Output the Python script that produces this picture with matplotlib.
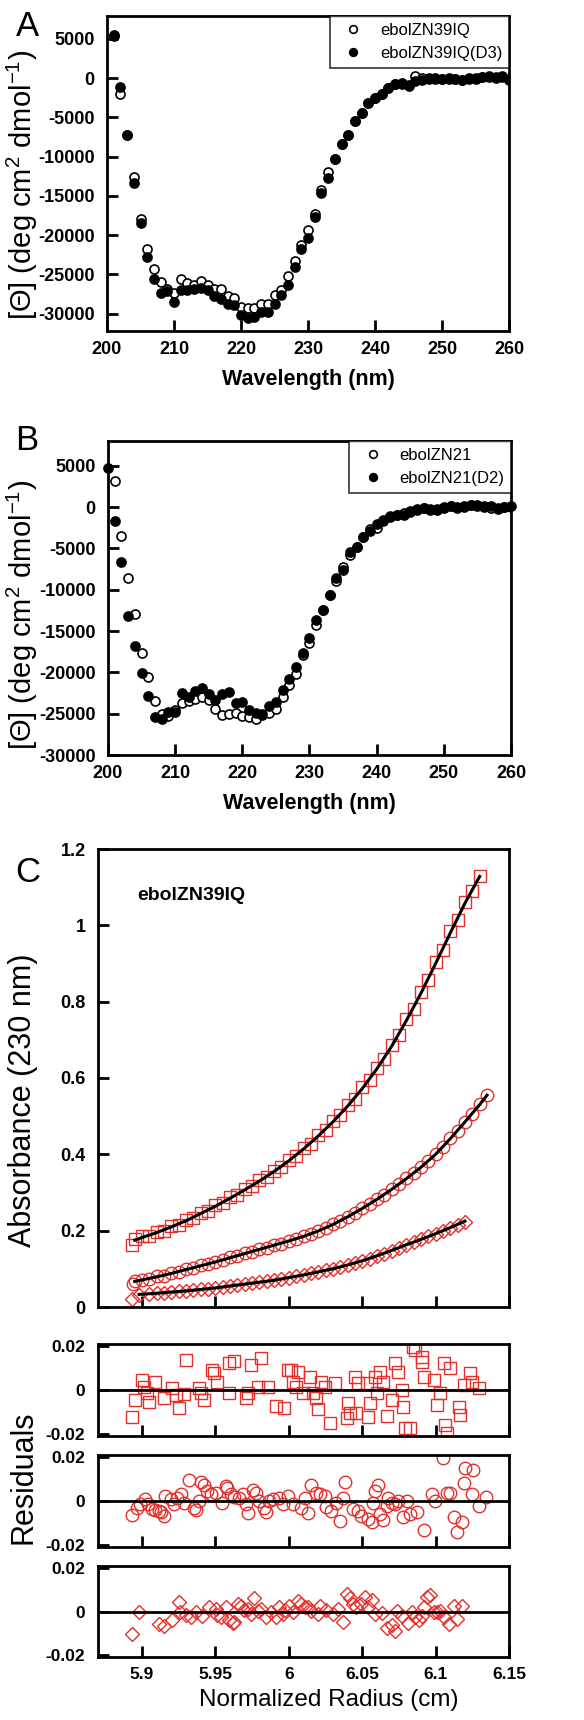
import numpy as np
import matplotlib
matplotlib.use("Agg")
import matplotlib.pyplot as plt

plt.rcParams['font.family'] = ['Liberation Sans', 'DejaVu Sans']
plt.rcParams['mathtext.fontset'] = 'custom'
plt.rcParams['mathtext.rm'] = 'Liberation Sans'
plt.rcParams['mathtext.it'] = 'Liberation Sans:italic'
plt.rcParams['axes.unicode_minus'] = False

# ---------------- Panel A : CD spectra ----------------
wl_a = list(range(201, 261))
a_open = [5500, -2000, -7300, -12600, -17900, -21700, -24300, -25900, -26900, -27300,
          -25600, -26100, -26400, -25800, -26300, -26800, -26900, -27800, -28000, -29100,
          -29300, -29300, -28700, -28700, -27600, -27000, -25200, -23300, -21300, -19300,
          -17300, -14300, -12000, -10300, -8400, -7200, -5500, -4400, -3200, -2500,
          -2000, -1300, -700, -600, -900, 200, 0, 0, 0, -100,
          0, -100, -300, -100, 0, 100, 100, 0, 100, -200]
a_fill = [5400, -1200, -7300, -13300, -18500, -22800, -25600, -27300, -27100, -28500,
          -27000, -27000, -26800, -26700, -27000, -27800, -28100, -28800, -28900, -30100,
          -30600, -30400, -29800, -29800, -28800, -27600, -26400, -24100, -21800, -20300,
          -17700, -14600, -12700, -10300, -8400, -7200, -5500, -4400, -3200, -2500,
          -2000, -1300, -800, -700, -1000, -400, -200, -100, -100, -100,
          -100, -100, -200, 0, -100, 100, 200, 100, 200, -100]

# ---------------- Panel B : CD spectra ----------------
wl_b_open = list(range(201, 261))
b_open = [3200, -3500, -8600, -12900, -17700, -20500, -23500, -25000, -25300, -24500,
          -23700, -23500, -23200, -23000, -23400, -24400, -25100, -25000, -24900, -25300,
          -25400, -25600, -25100, -24900, -24400, -23000, -21500, -20200, -17900, -16500,
          -14300, -12400, -10600, -9000, -7200, -5800, -4800, -3600, -2700, -2500,
          -1500, -1100, -900, -700, -500, -200, -100, -300, -200, 0,
          100, -100, 0, 200, 200, 100, -100, -100, 0, 0]
wl_b_fill = list(range(200, 261))
b_fill = [4700, -1700, -6700, -13200, -16800, -20100, -22800, -25400, -25700, -24800,
          -24800, -22500, -23000, -22200, -21900, -22600, -23300, -22600, -22400, -23700,
          -23600, -24600, -24900, -25000, -24100, -23600, -22100, -20800, -19300, -17600,
          -15900, -13700, -12400, -10600, -8600, -7600, -5400, -4800, -3600, -2900,
          -2100, -1700, -1200, -1000, -900, -600, -300, -100, -200, -300,
          -100, 100, 0, 100, 300, 100, 0, 100, -200, 0, 100]

# ---------------- Panel C : sedimentation equilibrium ----------------
r_sq = [5.893, 5.895, 5.900, 5.905, 5.910, 5.915, 5.920, 5.925, 5.930, 5.935, 5.940,
        5.945, 5.950, 5.955, 5.960, 5.965, 5.970, 5.975, 5.980, 5.985, 5.990,
        5.995, 6.000, 6.005, 6.010, 6.015, 6.020, 6.025, 6.030, 6.035, 6.040,
        6.045, 6.050, 6.055, 6.060, 6.065, 6.070, 6.075, 6.080, 6.085, 6.090,
        6.095, 6.100, 6.105, 6.110, 6.115, 6.120, 6.125, 6.130]
abs_sq = [0.162, 0.178, 0.185, 0.187, 0.197, 0.200, 0.212, 0.216, 0.228, 0.233, 0.247,
          0.252, 0.266, 0.272, 0.287, 0.294, 0.309, 0.316, 0.333, 0.340, 0.357,
          0.366, 0.386, 0.396, 0.417, 0.428, 0.451, 0.463, 0.488, 0.502, 0.529,
          0.546, 0.576, 0.594, 0.627, 0.650, 0.687, 0.712, 0.754, 0.781, 0.826,
          0.856, 0.904, 0.936, 0.984, 1.015, 1.062, 1.090, 1.128]
r_ci = [5.894, 5.895, 5.900, 5.905, 5.910, 5.915, 5.920, 5.925, 5.930, 5.935, 5.940,
        5.945, 5.950, 5.955, 5.960, 5.965, 5.970, 5.975, 5.980, 5.985, 5.990,
        5.995, 6.000, 6.005, 6.010, 6.015, 6.020, 6.025, 6.030, 6.035, 6.040,
        6.045, 6.050, 6.055, 6.060, 6.065, 6.070, 6.075, 6.080, 6.085, 6.090,
        6.095, 6.100, 6.105, 6.110, 6.115, 6.120, 6.125, 6.130, 6.135]
abs_ci = [0.060, 0.068, 0.072, 0.074, 0.080, 0.082, 0.089, 0.092, 0.099, 0.102, 0.109,
          0.112, 0.119, 0.122, 0.130, 0.133, 0.141, 0.144, 0.152, 0.155, 0.163,
          0.166, 0.174, 0.178, 0.186, 0.191, 0.200, 0.206, 0.217, 0.225, 0.237,
          0.246, 0.259, 0.269, 0.283, 0.294, 0.309, 0.321, 0.337, 0.350, 0.367,
          0.382, 0.401, 0.419, 0.442, 0.462, 0.486, 0.506, 0.531, 0.555]
r_di = [5.893, 5.898, 5.905, 5.910, 5.915, 5.920, 5.925, 5.930, 5.935, 5.940,
        5.945, 5.950, 5.955, 5.960, 5.965, 5.970, 5.975, 5.980, 5.985, 5.990,
        5.995, 6.000, 6.005, 6.010, 6.015, 6.020, 6.025, 6.030, 6.035, 6.040,
        6.045, 6.050, 6.055, 6.060, 6.065, 6.070, 6.075, 6.080, 6.085, 6.090,
        6.095, 6.100, 6.105, 6.110, 6.115, 6.120]
abs_di = [0.022, 0.032, 0.034, 0.036, 0.037, 0.039, 0.041, 0.042, 0.044, 0.046,
          0.048, 0.050, 0.052, 0.055, 0.057, 0.060, 0.062, 0.065, 0.067, 0.070,
          0.073, 0.077, 0.081, 0.084, 0.088, 0.092, 0.096, 0.100, 0.105, 0.110,
          0.116, 0.121, 0.127, 0.134, 0.140, 0.147, 0.155, 0.163, 0.170, 0.177,
          0.185, 0.192, 0.200, 0.208, 0.216, 0.224]

# fitted curves
fit_r_sq = [5.895, 5.90, 5.91, 5.92, 5.93, 5.94, 5.95, 5.96, 5.97, 5.98, 5.99, 6.00,
            6.01, 6.02, 6.03, 6.04, 6.05, 6.06, 6.07, 6.08, 6.09, 6.10, 6.11, 6.12, 6.13]
fit_sq = [0.175, 0.182, 0.195, 0.210, 0.226, 0.245, 0.264, 0.285, 0.307, 0.330, 0.355, 0.383,
          0.414, 0.448, 0.485, 0.526, 0.572, 0.624, 0.683, 0.750, 0.822, 0.900, 0.980, 1.058, 1.128]
fit_r_ci = [5.895, 5.90, 5.91, 5.92, 5.93, 5.94, 5.95, 5.96, 5.97, 5.98, 5.99, 6.00, 6.01,
            6.02, 6.03, 6.04, 6.05, 6.06, 6.07, 6.08, 6.09, 6.10, 6.11, 6.12, 6.13, 6.135]
fit_ci = [0.067, 0.071, 0.079, 0.088, 0.098, 0.108, 0.118, 0.129, 0.140, 0.151, 0.162, 0.173, 0.185,
          0.199, 0.216, 0.236, 0.258, 0.282, 0.308, 0.336, 0.366, 0.400, 0.441, 0.485, 0.530, 0.555]
fit_r_di = [5.898, 5.91, 5.92, 5.93, 5.94, 5.95, 5.96, 5.97, 5.98, 5.99, 6.00, 6.01,
            6.02, 6.03, 6.04, 6.05, 6.06, 6.07, 6.08, 6.09, 6.10, 6.11, 6.12]
fit_di = [0.033, 0.036, 0.039, 0.042, 0.046, 0.050, 0.055, 0.060, 0.065, 0.070, 0.077, 0.084,
          0.092, 0.100, 0.110, 0.121, 0.134, 0.148, 0.163, 0.177, 0.192, 0.208, 0.225]

# residuals (squares)
res_r_sq = [5.8932, 5.8954, 5.9000, 5.9011, 5.9034, 5.9046, 5.9091, 5.9148, 5.9205, 5.9228,
            5.9251, 5.9297, 5.9285, 5.9388, 5.9400, 5.9422, 5.9479, 5.9491, 5.9514, 5.9594,
            5.9594, 5.9628, 5.9708, 5.9720, 5.9743, 5.9810, 5.9788, 5.9856, 5.9913, 5.9970,
            5.9993, 6.0016, 6.0027, 6.0050, 6.0061, 6.0096, 6.0142, 6.0164, 6.0187, 6.0199,
            6.0221, 6.0244, 6.0279, 6.0313, 6.0393, 6.0404, 6.0416, 6.0450, 6.0461, 6.0473,
            6.0530, 6.0541, 6.0553, 6.0587, 6.0598, 6.0621, 6.0644, 6.0667, 6.0701, 6.0724,
            6.0747, 6.0770, 6.0781, 6.0793, 6.0827, 6.0849, 6.0861, 6.0907, 6.0907, 6.0918,
            6.0986, 6.1009, 6.1032, 6.1055, 6.1066, 6.1078, 6.1100, 6.1158, 6.1169, 6.1192,
            6.1237, 6.1249, 6.1295]
res_sq = [-0.0125, -0.0046, 0.0046, 0.0015, -0.0015, -0.0053, 0.0038, -0.0038, 0.0008, -0.0023,
          -0.0084, 0.0137, -0.0018, 0.0008, -0.0015, -0.0046, 0.0091, 0.0076, 0.0038, -0.0015,
          0.0122, 0.0134, -0.0038, -0.0015, 0.0114, 0.0145, 0.0015, 0.0015, -0.0073, -0.0084,
          0.0091, 0.0091, 0.0038, 0.0015, 0.0084, -0.0015, 0.0061, -0.0015, -0.0038, -0.0088,
          0.0038, 0.0015, -0.0149, 0.0030, -0.0129, -0.0061, -0.0107, 0.0061, -0.0103, 0.0030,
          0.0030, -0.0122, -0.0061, 0.0061, -0.0015, 0.0084, 0.0038, -0.0119, -0.0046, 0.0122,
          0.0084, 0.0000, -0.0076, -0.0175, -0.0175, 0.0198, 0.0183, 0.0152, 0.0129, 0.0061,
          0.0046, -0.0068, -0.0015, 0.0122, -0.0160, -0.0198, 0.0099, -0.0076, -0.0114, 0.0023,
          0.0076, 0.0038, 0.0008]

# residuals (circles)
res_r_ci = [5.8932, 5.8966, 5.8989, 5.9023, 5.9041, 5.9068, 5.9091, 5.9114, 5.9132, 5.9148,
            5.9155, 5.9194, 5.9217, 5.9240, 5.9263, 5.9285, 5.9320, 5.9354, 5.9365, 5.9388,
            5.9400, 5.9422, 5.9445, 5.9468, 5.9502, 5.9548, 5.9571, 5.9582, 5.9605, 5.9628,
            5.9662, 5.9685, 5.9708, 5.9720, 5.9753, 5.9776, 5.9799, 5.9833, 5.9845, 5.9868,
            5.9890, 5.9936, 5.9959, 5.9993, 6.0027, 6.0084, 6.0107, 6.0130, 6.0153, 6.0187,
            6.0210, 6.0244, 6.0256, 6.0290, 6.0324, 6.0347, 6.0370, 6.0381, 6.0438, 6.0473,
            6.0495, 6.0541, 6.0564, 6.0575, 6.0587, 6.0610, 6.0621, 6.0644, 6.0667, 6.0678,
            6.0701, 6.0724, 6.0747, 6.0781, 6.0804, 6.0827, 6.0872, 6.0918, 6.0975, 6.0998,
            6.1050, 6.1078, 6.1100, 6.1123, 6.1146, 6.1180, 6.1192, 6.1203, 6.1249, 6.1256,
            6.1295, 6.1341]
res_ci = [-0.0063, -0.0030, -0.0012, 0.0007, -0.0012, -0.0037, -0.0042, -0.0045, -0.0052, -0.0067,
          0.0022, 0.0007, -0.0012, 0.0012, 0.0030, -0.0007, 0.0097, -0.0030, -0.0042, 0.0000,
          0.0087, 0.0075, 0.0045, 0.0030, 0.0037, -0.0007, 0.0067, 0.0060, 0.0030, 0.0018,
          0.0012, 0.0030, -0.0015, -0.0057, 0.0052, 0.0037, 0.0000, -0.0030, -0.0052, 0.0000,
          0.0007, 0.0012, -0.0015, 0.0022, -0.0012, -0.0030, 0.0012, -0.0057, 0.0072, 0.0037,
          0.0030, 0.0022, -0.0027, -0.0045, -0.0007, -0.0093, 0.0015, 0.0087, -0.0037, -0.0045,
          -0.0067, -0.0082, -0.0097, -0.0007, 0.0045, 0.0075, -0.0060, -0.0087, -0.0022, 0.0015,
          -0.0007, -0.0015, 0.0000, -0.0075, 0.0000, -0.0060, -0.0052, -0.0134, 0.0030, 0.0000,
          0.0195, 0.0037, 0.0037, -0.0075, -0.0142, -0.0097, 0.0082, 0.0149, 0.0033, 0.0142,
          -0.0022, 0.0018]

# residuals (diamonds)
res_r_di = [5.8932, 5.8977, 5.9114, 5.9148, 5.9205, 5.9251, 5.9262, 5.9297, 5.9331, 5.9365,
            5.9411, 5.9457, 5.9502, 5.9514, 5.9537, 5.9571, 5.9594, 5.9617, 5.9628, 5.9651,
            5.9674, 5.9697, 5.9720, 5.9743, 5.9765, 5.9788, 5.9810, 5.9845, 5.9879, 5.9913,
            5.9936, 5.9959, 5.9977, 6.0000, 6.0027, 6.0061, 6.0084, 6.0107, 6.0130, 6.0153,
            6.0199, 6.0210, 6.0256, 6.0301, 6.0336, 6.0370, 6.0393, 6.0416, 6.0438, 6.0461,
            6.0495, 6.0518, 6.0541, 6.0564, 6.0587, 6.0632, 6.0667, 6.0701, 6.0724, 6.0735,
            6.0770, 6.0815, 6.0838, 6.0861, 6.0884, 6.0907, 6.0918, 6.0941, 6.0963, 6.0986,
            6.1009, 6.1032, 6.1055, 6.1089, 6.1123, 6.1146, 6.1180]
res_di = [-0.0103, 0.0000, -0.0058, -0.0066, -0.0040, 0.0042, -0.0003, -0.0018, -0.0025, -0.0003,
          -0.0022, 0.0019, 0.0012, -0.0018, -0.0025, 0.0019, -0.0037, -0.0055, -0.0048, 0.0034,
          0.0027, 0.0007, 0.0012, -0.0010, 0.0064, 0.0004, 0.0012, -0.0025, -0.0003, -0.0025,
          0.0019, -0.0010, 0.0007, 0.0027, -0.0003, 0.0049, 0.0034, 0.0022, 0.0019, 0.0004,
          -0.0010, 0.0027, 0.0007, -0.0013, 0.0012, -0.0048, 0.0079, 0.0064, 0.0034, 0.0019,
          0.0034, 0.0067, 0.0019, 0.0052, -0.0010, -0.0007, -0.0078, -0.0063, -0.0088, 0.0004,
          -0.0022, -0.0052, -0.0003, -0.0025, -0.0037, -0.0022, 0.0019, 0.0067, 0.0075, -0.0003,
          -0.0003, 0.0001, -0.0025, -0.0058, 0.0027, -0.0033, 0.0027]

W, H = 584, 1720
RED = '#e3302b'


def box(l, t, r, b):
    """rectangulo en pixeles -> coordenadas de figura"""
    return [l / W, 1 - b / H, (r - l) / W, (b - t) / H]


def estilo(ax, labelsize=13):
    for s in ax.spines.values():
        s.set_linewidth(2)
    ax.tick_params(direction='in', length=8, width=2, labelsize=labelsize, pad=9,
                   top=False, right=False)
    ax.tick_params(axis='x', pad=7)
    for lbl in ax.get_xticklabels() + ax.get_yticklabels():
        lbl.set_fontweight('bold')


fig = plt.figure(figsize=(W / 100, H / 100), dpi=100)

# ---- A ----
axA = fig.add_axes(box(107, 16, 509, 331))
axA.plot(wl_a, a_open, 'o', ms=6.5, mfc='white', mec='black', mew=1.2, label='ebolZN39IQ')
axA.plot(wl_a, a_fill, 'o', ms=6.5, mfc='black', mec='black', mew=1.2, label='ebolZN39IQ(D3)')
axA.set_xlim(200, 260)
axA.set_ylim(-32200, 7900)
ticks = [5000, 0, -5000, -10000, -15000, -20000, -25000, -30000]
axA.set_yticks(ticks, labels=[str(t) for t in ticks])
axA.set_xticks(range(200, 261, 10), labels=[str(t) for t in range(200, 261, 10)])
estilo(axA)
axA.set_xlabel('Wavelength (nm)', fontsize=15.5, fontweight='bold', labelpad=8)
leg = axA.legend(loc='upper right', borderaxespad=0, fancybox=False, edgecolor='black',
                 fontsize=12, handletextpad=0.6, markerscale=0.85)
leg.get_frame().set_linewidth(1.2)

# ---- B ----
axB = fig.add_axes(box(108, 441, 511, 755))
axB.plot(wl_b_open, b_open, 'o', ms=6.5, mfc='white', mec='black', mew=1.2, label='ebolZN21')
axB.plot(wl_b_fill, b_fill, 'o', ms=6.5, mfc='black', mec='black', mew=1.2, label='ebolZN21(D2)',
         clip_on=False)
axB.set_xlim(200, 260)
axB.set_ylim(-30000, 8000)
axB.set_yticks(ticks, labels=[str(t) for t in ticks])
axB.set_xticks(range(200, 261, 10), labels=[str(t) for t in range(200, 261, 10)])
estilo(axB)
axB.set_xlabel('Wavelength (nm)', fontsize=15.5, fontweight='bold', labelpad=8)
leg = axB.legend(loc='upper right', borderaxespad=0, fancybox=False, edgecolor='black',
                 fontsize=12, handletextpad=0.6, markerscale=0.85)
leg.get_frame().set_linewidth(1.2)

ylab = '[\u0398] (deg cm$^{2}$ dmol$^{-1}$)'
fig.text(22 / W, 1 - 185 / H, ylab, rotation=90, fontsize=21, ha='center', va='center')
fig.text(22 / W, 1 - 615 / H, ylab, rotation=90, fontsize=21, ha='center', va='center')

# ---- C ----
xr = (5.87, 6.15)
rt = [5.9, 5.95, 6.0, 6.05, 6.1, 6.15]
axC = fig.add_axes(box(98, 849, 509, 1307))
mk = dict(ls='none', mfc='none', mec=RED, mew=1.0, ms=9)
axC.plot(r_sq, abs_sq, marker='s', **mk)
axC.plot(r_ci, abs_ci, marker='o', **mk)
axC.plot(r_di, abs_di, marker='D', **dict(mk, ms=7.5))
for fr, fv in [(fit_r_sq, fit_sq), (fit_r_ci, fit_ci), (fit_r_di, fit_di)]:
    axC.plot(fr, fv, color='black', lw=2.2, zorder=3)
axC.set_xlim(*xr)
axC.set_ylim(0, 1.2)
axC.set_xticks(rt, labels=[])
axC.set_yticks([0, 0.2, 0.4, 0.6, 0.8, 1.0, 1.2], labels=['0', '0.2', '0.4', '0.6', '0.8', '1', '1.2'])
estilo(axC)

# residuales
res_sets = [(res_r_sq, res_sq, 's', 9), (res_r_ci, res_ci, 'o', 9), (res_r_di, res_di, 'D', 7.5)]
boxes = [(98, 1344, 509, 1436), (98, 1455, 509, 1547), (98, 1566, 509, 1657)]
for i, ((rr, vv, m, s), bx) in enumerate(zip(res_sets, boxes)):
    ax = fig.add_axes(box(*bx))
    ax.plot(rr, vv, marker=m, **dict(mk, ms=s))
    ax.axhline(0, color='black', lw=2, zorder=3)
    ax.set_xlim(*xr)
    ax.set_ylim(-0.021, 0.021)
    ax.set_yticks([0.02, 0, -0.02], labels=['0.02', '0', '-0.02'])
    if i < 2:
        ax.set_xticks(rt, labels=[])
    else:
        ax.set_xticks(rt, labels=['5.9', '5.95', '6', '6.05', '6.1', '6.15'])
    estilo(ax, labelsize=12.5)

fig.text(137 / W, 1 - 895 / H, 'ebolZN39IQ', fontsize=14, fontweight='bold', ha='left', va='center')
fig.text(23 / W, 1 - 1100 / H, 'Absorbance (230 nm)', rotation=90, fontsize=22, ha='center', va='center')
fig.text(23 / W, 1 - 1477 / H, 'Residuals', rotation=90, fontsize=22, ha='center', va='center')
fig.text(329 / W, 1 - 1700 / H, 'Normalized Radius (cm)', fontsize=17.5, ha='center', va='center')

# letras de los paneles
for txt, x, y in [('A', 28, 26), ('B', 27, 440), ('C', 28, 872)]:
    fig.text(x / W, 1 - y / H, txt, fontsize=25, ha='center', va='center')

fig.savefig('out.png', dpi=100)
